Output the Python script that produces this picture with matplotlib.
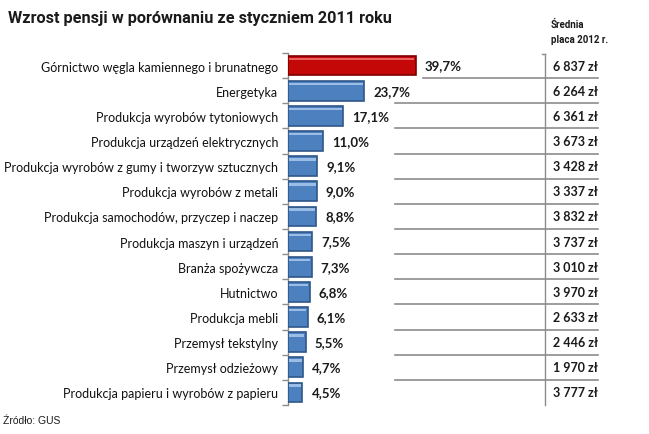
import matplotlib
matplotlib.use("Agg")
import matplotlib.pyplot as plt

categories = [
    "Górnictwo węgla kamiennego i brunatnego",
    "Energetyka",
    "Produkcja wyrobów tytoniowych",
    "Produkcja urządzeń elektrycznych",
    "Produkcja wyrobów z gumy i tworzyw sztucznych",
    "Produkcja wyrobów z metali",
    "Produkcja samochodów, przyczep i naczep",
    "Produkcja maszyn i urządzeń",
    "Branża spożywcza",
    "Hutnictwo",
    "Produkcja mebli",
    "Przemysł tekstylny",
    "Przemysł odzieżowy",
    "Produkcja papieru i wyrobów z papieru",
]
growth = [39.7, 23.7, 17.1, 11.0, 9.1, 9.0, 8.8, 7.5, 7.3, 6.8, 6.1, 5.5, 4.7, 4.5]
salary = ["6 837 zł", "6 264 zł", "6 361 zł", "3 673 zł", "3 428 zł", "3 337 zł",
          "3 832 zł", "3 737 zł", "3 010 zł", "3 970 zł", "2 633 zł", "2 446 zł",
          "1 970 zł", "3 777 zł"]

W, H = 649, 435
fig = plt.figure(figsize=(W / 100, H / 100), dpi=100)
fig.patch.set_facecolor("white")

ax_left, ax_top, ax_bot = 288, 54, 406
ax = fig.add_axes([ax_left / W, 1 - ax_bot / H, (W - ax_left) / W, (ax_bot - ax_top) / H])
px_per_unit = 3.22
ax.set_xlim(0, (W - ax_left) / px_per_unit)
n = len(categories)
ax.set_ylim(n - 0.5, -0.5)
ypos = list(range(n))

colors = ["#c40808"] + ["#4d80bf"] * (n - 1)
edges = ["#800000"] + ["#2f5788"] * (n - 1)
highlights = ["#ee6a6a"] + ["#a3c3ea"] * (n - 1)
bh = 0.78
ax.barh(ypos, growth, height=bh, color=colors, edgecolor=edges, linewidth=1.2, zorder=3)
# bevel highlight
ax.barh([y - bh / 2 + 0.12 for y in ypos], [max(g - 0.9, 0) for g in growth], left=0.45,
        height=0.1, color=highlights, linewidth=0, zorder=4, alpha=0.9)

for y, g in zip(ypos, growth):
    ax.text(g + 2.8, y, f"{g:.1f}%".replace(".", ","), va="center", ha="left",
            fontsize=9.5, fontweight="bold", family="Lato", color="#1a1a1a", zorder=5)

# spines & ticks
for s in ["top", "right", "bottom"]:
    ax.spines[s].set_visible(False)
ax.spines["left"].set_color("#8c8c8c")
ax.spines["left"].set_linewidth(1.0)
ax.set_xticks([])
ax.set_yticks(ypos)
ax.set_yticklabels(categories, fontsize=9, family="Lato", color="#111111")
ax.tick_params(axis="y", which="major", length=0, pad=7)
ax.set_yticks([y + 0.5 for y in range(-1, n)], minor=True)
ax.tick_params(axis="y", which="minor", length=4, color="#8c8c8c", width=1.0)

# table lines (x in axes fraction, y in data)
tr = ax.get_yaxis_transform()
aw = W - ax_left
for i in range(n - 1):
    x0 = (423 - ax_left) / aw if i == 0 else (395 - ax_left) / aw
    ax.plot([x0, (598 - ax_left) / aw], [i + 0.5, i + 0.5], transform=tr,
            color="#8c8c8c", lw=1.2, zorder=1, clip_on=False)
xv = (545 - ax_left) / aw
ax.plot([xv, xv], [-0.45, n - 0.5], transform=tr, color="#8c8c8c", lw=1.0, zorder=1, clip_on=False)
ax.plot([xv - 0.008, xv], [-0.45, -0.45], transform=tr, color="#8c8c8c", lw=1.0, zorder=1, clip_on=False)

for y, s in zip(ypos, salary):
    ax.text((553 - ax_left) / aw, y, s, transform=tr, va="center", ha="left",
            fontsize=9, fontweight="bold", family="Lato", color="#1a1a1a")

fig.text(8 / W, 1 - 19 / H, "Wzrost pensji w porównaniu ze styczniem 2011 roku",
         fontsize=11.7, fontweight="bold", family="Roboto", color="#1a1a1a",
         va="center", ha="left")
fig.text(551 / W, 1 - 25 / H, "Średnia", fontsize=7, fontweight="bold",
         family="Roboto", color="#1a1a1a", va="center", ha="left")
fig.text(551 / W, 1 - 40 / H, "placa 2012 r.", fontsize=7, fontweight="bold",
         family="Roboto", color="#1a1a1a", va="center", ha="left")
fig.text(3 / W, 1 - 421 / H, "Źródło: GUS", fontsize=7.5,
         family="Liberation Sans", color="#1a1a1a", va="center", ha="left")

fig.savefig("out.png", dpi=100, facecolor="white")
